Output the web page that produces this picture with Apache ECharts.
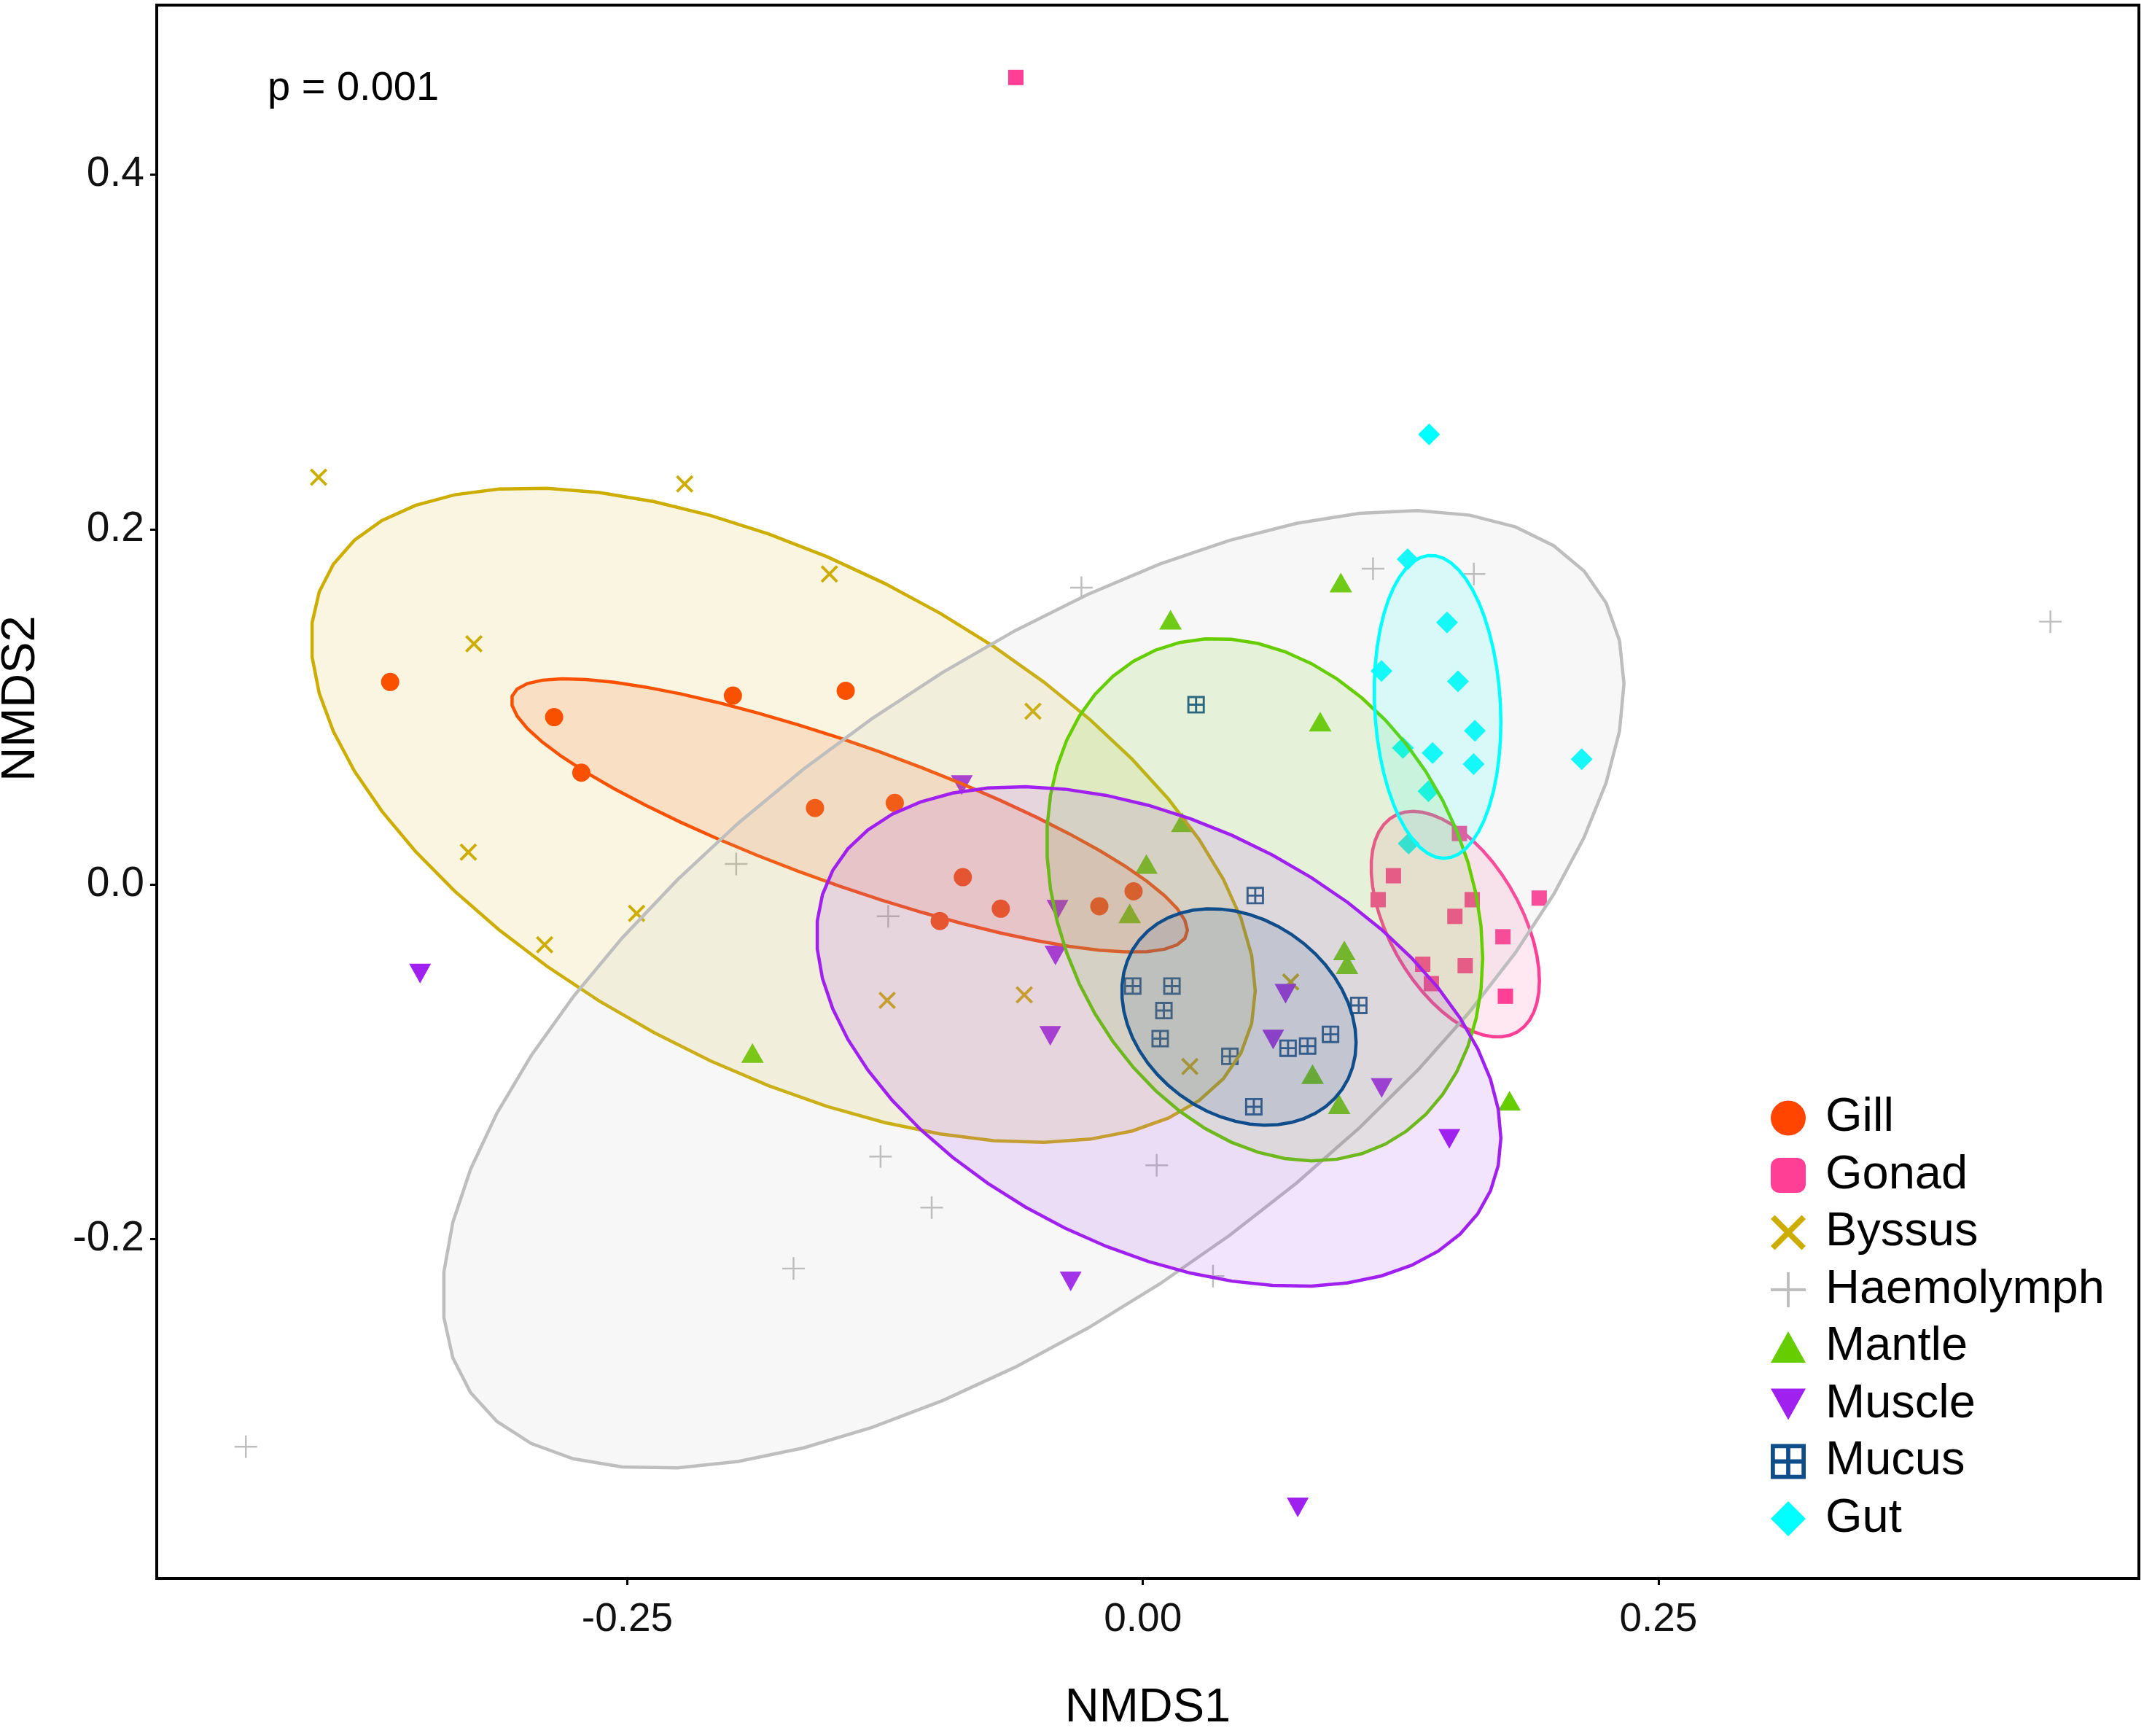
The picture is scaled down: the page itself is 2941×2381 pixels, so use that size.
<!DOCTYPE html>
<html>
<head>
<meta charset="utf-8">
<title>NMDS</title>
<script src="https://cdn.jsdelivr.net/npm/echarts@6.0.0/dist/echarts.min.js"></script>
<style>
    html, body { margin: 0; padding: 0; background: #fff; }
    #chart { width: 2941px; height: 2381px; }
</style>
</head>
<body>
<div id="chart"></div>
<script>
const FONT = '"Liberation Sans", Arial, Helvetica, sans-serif';

// axis ranges and ticks
const X_MIN = -0.4782, X_MAX = 0.4830;
const Y_MIN = -0.3913, Y_MAX = 0.4955;
const xTicks = [-0.25, 0, 0.25];
const yTicks = [-0.2, 0, 0.2, 0.4];

const groups = ['Gill', 'Gonad', 'Byssus', 'Haemolymph', 'Mantle', 'Muscle', 'Mucus', 'Gut'];

// NMDS scores [NMDS1, NMDS2]
const gill = [[-0.3650, 0.1140], [-0.2855, 0.0942], [-0.2723, 0.0629], [-0.1988, 0.1063], [-0.1441, 0.1090], [-0.1590, 0.0430],
    [-0.1203, 0.0458], [-0.0873, 0.0040], [-0.0689, -0.0138], [-0.0985, -0.0207], [-0.0211, -0.0124], [-0.0045, -0.0040]];
const gonad = [[-0.0616, 0.4547], [0.1215, 0.0048], [0.1141, -0.0087], [0.1535, 0.0286], [0.1597, -0.0087], [0.1513, -0.0181],
    [0.1357, -0.0451], [0.1399, -0.0560], [0.1563, -0.0459], [0.1746, -0.0296], [0.1758, -0.0631], [0.1922, -0.0078]];
const byssus = [[-0.3997, 0.2294], [-0.2222, 0.2256], [-0.3244, 0.1355], [-0.1520, 0.1749], [-0.0533, 0.0975], [-0.3271, 0.0181],
    [-0.2901, -0.0341], [-0.2455, -0.0164], [-0.1240, -0.0654], [-0.0575, -0.0623], [0.0228, -0.1027], [0.0717, -0.0551]];
const haemolymph = [[-0.4350, -0.3170], [-0.0298, 0.1672], [0.1116, 0.1778], [0.1605, 0.1749], [0.4401, 0.1480], [-0.1972, 0.0114],
    [-0.1235, -0.0181], [-0.1272, -0.1535], [-0.1024, -0.1822], [-0.1694, -0.2166], [0.0067, -0.1584], [0.0340, -0.2209]];
const mantle = [[0.0134, 0.1491], [0.0960, 0.1700], [0.0860, 0.0917], [0.0191, 0.0349], [0.0017, 0.0114], [-0.0064, -0.0164],
    [-0.1893, -0.0951], [0.0977, -0.0373], [0.0990, -0.0451], [0.0823, -0.1070], [0.0952, -0.1240], [0.1778, -0.1220]];
const muscle = [[-0.3505, -0.0503], [-0.0878, 0.0559], [-0.0414, -0.0144], [-0.0424, -0.0402], [-0.0449, -0.0855], [-0.0350, -0.2238],
    [0.0692, -0.0617], [0.0632, -0.0875], [0.1158, -0.1148], [0.1486, -0.1435], [0.0751, -0.3512]];
const mucus = [[0.0258, 0.1012], [0.0545, -0.0064], [-0.0049, -0.0574], [0.0141, -0.0574], [0.0102, -0.0712], [0.0084, -0.0870],
    [0.0422, -0.0970], [0.0704, -0.0924], [0.0799, -0.0912], [0.0910, -0.0846], [0.1047, -0.0683], [0.0538, -0.1254]];
const gut = [[0.1388, 0.2536], [0.1284, 0.1832], [0.1475, 0.1475], [0.1157, 0.1202], [0.1528, 0.1144], [0.1610, 0.0865],
    [0.1261, 0.0769], [0.1405, 0.0740], [0.1604, 0.0677], [0.2128, 0.0705], [0.1385, 0.0524], [0.1289, 0.0229]];

// confidence ellipses: [centre x, centre y, half width, half height, y offset at rightmost point]
const gillEllipse = [-0.1423, 0.0388, 0.1639, 0.0770, -0.0647];
const gonadEllipse = [0.1515, -0.0225, 0.0408, 0.0636, -0.0320];
const byssusEllipse = [-0.1744, 0.0389, 0.2289, 0.1844, -0.0990];
const haemolymphEllipse = [-0.0531, -0.0593, 0.2864, 0.2699, 0.1724];
const mantleEllipse = [0.0591, -0.0087, 0.1057, 0.1472, -0.0330];
const muscleEllipse = [0.0077, -0.0858, 0.1659, 0.1408, -0.0573];
const mucusEllipse = [0.0466, -0.0748, 0.0568, 0.0610, -0.0144];
const gutEllipse = [0.1429, 0.1000, 0.0307, 0.0854, -0.0087];

const SEGMENTS = 51;

const colors = {
    Gill: '#FF4500', Gonad: '#FF3E96', Byssus: '#CDAD00', Haemolymph: '#BEBEBE',
    Mantle: '#66CD00', Muscle: '#A020F0', Mucus: '#104E8B', Gut: '#00FFFF'
};

// symbol shapes
const CROSS_X = 'path://M6.5 -6.5 L106.5 93.5 L93.5 106.5 L-6.5 6.5 Z M93.5 -6.5 L106.5 6.5 L6.5 106.5 L-6.5 93.5 Z';
const PLUS = 'path://M46 0 L54 0 L54 46 L100 46 L100 54 L54 54 L54 100 L46 100 L46 54 L0 54 L0 46 L46 46 Z';
const TRI_UP = 'path://M50 0 L100 90 L0 90 Z';
const TRI_DOWN = 'path://M0 0 L100 0 L50 90 Z';
const BOX_PLUS = 'path://M0 0 L100 0 L100 100 L0 100 Z M12 12 L12 44 L44 44 L44 12 Z M56 12 L56 44 L88 44 L88 12 Z ' +
    'M12 56 L12 88 L44 88 L44 56 Z M56 56 L56 88 L88 88 L88 56 Z';

const pointStyle = {
    Gill: { data: gill, symbol: 'circle', size: 25, icon: 'circle' },
    Gonad: { data: gonad, symbol: 'rect', size: 21, icon: 'roundRect' },
    Byssus: { data: byssus, symbol: CROSS_X, size: 24, icon: CROSS_X },
    Haemolymph: { data: haemolymph, symbol: PLUS, size: 31, icon: PLUS },
    Mantle: { data: mantle, symbol: TRI_UP, size: [31, 27], icon: TRI_UP },
    Muscle: { data: muscle, symbol: TRI_DOWN, size: [30, 27], icon: TRI_DOWN },
    Mucus: { data: mucus, symbol: BOX_PLUS, size: 24, icon: BOX_PLUS },
    Gut: { data: gut, symbol: 'diamond', size: 30, icon: 'diamond' }
};

const ellipses = {
    Gill: gillEllipse, Gonad: gonadEllipse, Byssus: byssusEllipse, Haemolymph: haemolymphEllipse,
    Mantle: mantleEllipse, Muscle: muscleEllipse, Mucus: mucusEllipse, Gut: gutEllipse
};

function withAlpha(hex, a) {
    const n = parseInt(hex.slice(1), 16);
    return `rgba(${(n >> 16) & 255}, ${(n >> 8) & 255}, ${n & 255}, ${a})`;
}

function ellipseSeries(name) {
    const p = ellipses[name];
    const color = colors[name];
    return {
        type: 'custom',
        name: name + ' ellipse',
        z: 3,
        silent: true,
        data: [p],
        renderItem: (params, api) => {
            const [cx, cy, w, h, dy] = p;
            const k = Math.sqrt(h * h - dy * dy);
            const pts = [];
            for (let i = 0; i < SEGMENTS; i++) {
                const t = 2 * Math.PI * i / SEGMENTS;
                pts.push(api.coord([cx + w * Math.cos(t), cy + dy * Math.cos(t) + k * Math.sin(t)]));
            }
            return {
                type: 'polygon',
                shape: { points: pts },
                style: { fill: withAlpha(color, 0.12), stroke: color, lineWidth: 4.5 }
            };
        }
    };
}

const chart = echarts.init(document.getElementById('chart'));

const pointSeries = groups.map(g => ({
    type: 'scatter',
    name: g,
    z: 2,
    data: pointStyle[g].data,
    symbol: pointStyle[g].symbol,
    symbolSize: pointStyle[g].size,
    itemStyle: { color: colors[g], opacity: 1 }
}));

chart.setOption({
    animation: false,
    backgroundColor: '#fff',
    textStyle: { fontFamily: FONT },
    grid: { left: 215, right: 7, top: 7, bottom: 205, show: true, borderColor: '#000', borderWidth: 4 },
    xAxis: {
        type: 'value',
        min: X_MIN,
        max: X_MAX,
        axisLine: { show: false, onZero: false },
        splitLine: { show: false },
        axisTick: { show: true, length: 9, lineStyle: { color: '#000', width: 3 }, customValues: xTicks },
        axisLabel: {
            customValues: xTicks,
            formatter: v => v.toFixed(2),
            fontSize: 55, color: '#111', margin: 29, fontFamily: FONT
        },
        name: 'NMDS1',
        nameLocation: 'middle',
        nameGap: 146,
        nameTextStyle: { fontSize: 65, color: '#000', fontFamily: FONT }
    },
    yAxis: {
        type: 'value',
        min: Y_MIN,
        max: Y_MAX,
        axisLine: { show: false, onZero: false },
        splitLine: { show: false },
        axisTick: { show: true, length: 9, lineStyle: { color: '#000', width: 3 }, customValues: yTicks },
        axisLabel: {
            customValues: yTicks,
            formatter: v => v.toFixed(1),
            fontSize: 57, color: '#111', margin: 17, fontFamily: FONT
        }
    },
    legend: {
        orient: 'vertical',
        left: 2429,
        top: 1501,
        padding: 0,
        itemWidth: 48,
        itemHeight: 48,
        itemGap: 13.5,
        selectedMode: false,
        textStyle: { fontSize: 65, color: '#000', fontFamily: FONT, padding: [0, 0, 0, 22] },
        data: groups.map(g => ({ name: g, icon: pointStyle[g].icon }))
    },
    graphic: [
        {
            type: 'text',
            x: 367,
            y: 122,
            style: {
                text: 'p = 0.001', fontSize: 56, fontFamily: FONT, fill: '#000',
                align: 'left', verticalAlign: 'middle', textAlign: 'left', textVerticalAlign: 'middle'
            }
        },
        {
            type: 'text',
            x: 29,
            y: 958,
            rotation: Math.PI / 2,
            style: {
                text: 'NMDS2', fontSize: 65, fontFamily: FONT, fill: '#000',
                align: 'center', verticalAlign: 'middle', textAlign: 'center', textVerticalAlign: 'middle'
            }
        }
    ],
    series: [...pointSeries, ...groups.map(ellipseSeries)]
});

window.addEventListener('resize', () => chart.resize());
</script>
</body>
</html>
